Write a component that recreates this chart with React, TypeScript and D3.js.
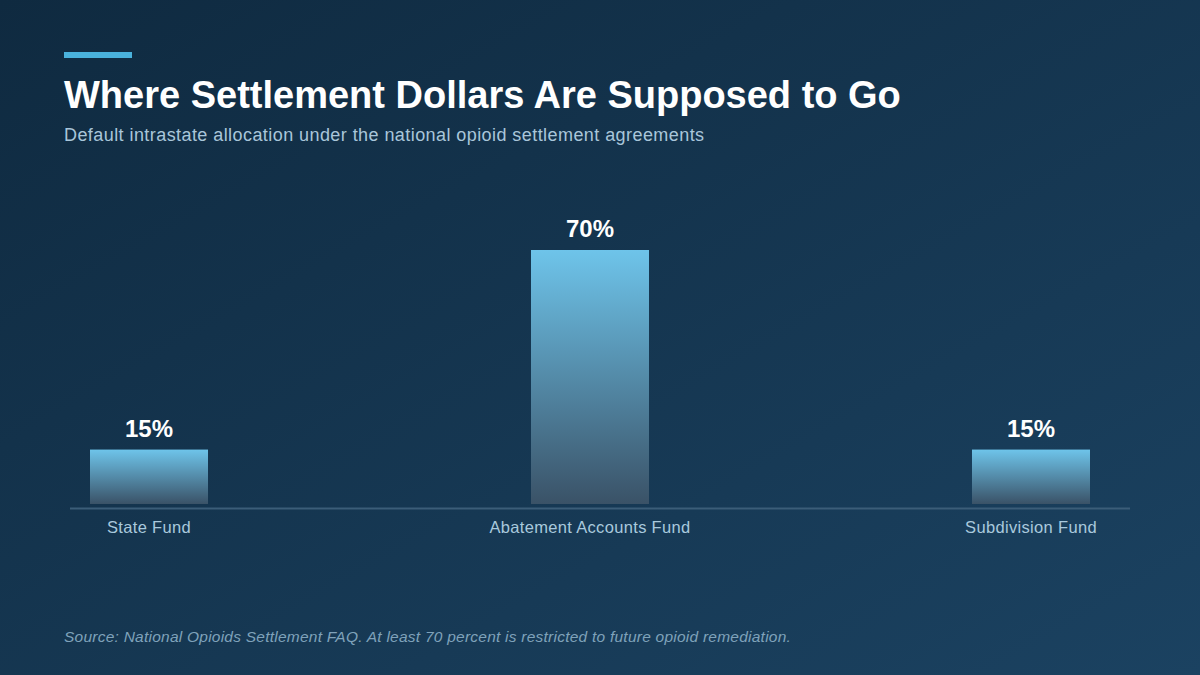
import React from "react";
import * as d3 from "d3";

const categories = ["State Fund", "Abatement Accounts Fund", "Subdivision Fund"];
const shares = [15, 70, 15];
const valueLabels = ["15%", "70%", "15%"];

const title = "Where Settlement Dollars Are Supposed to Go";
const subtitle = "Default intrastate allocation under the national opioid settlement agreements";
const source = "Source: National Opioids Settlement FAQ. At least 70 percent is restricted to future opioid remediation.";

const W = 1200;
const H = 675;
const FONT = "'Liberation Sans', Arial, Helvetica, sans-serif";

export default function App() {
  const x = d3
    .scaleBand<string>()
    .domain(categories)
    .range([90, 1090])
    .paddingInner(0.7324)
    .paddingOuter(0);
  const y = d3.scaleLinear().domain([0, 70]).range([504, 250]);

  return (
    <svg
      width={W}
      height={H}
      viewBox={`0 0 ${W} ${H}`}
      style={{ position: "absolute", left: 0, top: 0, display: "block" }}
    >
      <defs>
        <linearGradient id="bg" x1="0" y1="0" x2="1" y2="1">
          <stop offset="0%" stopColor="#0f2a40" />
          <stop offset="100%" stopColor="#1b4261" />
        </linearGradient>
        <linearGradient id="bar" x1="0" y1="0" x2="0" y2="1">
          <stop offset="0%" stopColor="#6ec4ea" />
          <stop offset="100%" stopColor="#3a5267" />
        </linearGradient>
      </defs>
      <rect x={0} y={0} width={W} height={H} fill="url(#bg)" />
      <rect x={64} y={52} width={68} height={6} fill="#4ab2dc" />
      <text x={64} y={107.5} fill="#ffffff" fontFamily={FONT} fontWeight={700} fontSize={38}>
        {title}
      </text>
      <text x={64} y={141} fill="#a9c6da" fontFamily={FONT} fontSize={18} letterSpacing={0.43}>
        {subtitle}
      </text>

      <line x1={70} x2={1130} y1={508.5} y2={508.5} stroke="#3b5d78" strokeWidth={2} />

      {categories.map((c, i) => {
        const bx = x(c)!;
        const by = y(shares[i]);
        return (
          <g key={c}>
            <rect x={bx} y={by} width={x.bandwidth()} height={y(0) - by} fill="url(#bar)" />
            <text
              x={bx + x.bandwidth() / 2}
              y={by - 13}
              textAnchor="middle"
              fill="#ffffff"
              fontFamily={FONT}
              fontWeight={700}
              fontSize={24}
            >
              {valueLabels[i]}
            </text>
            <text
              x={bx + x.bandwidth() / 2}
              y={533}
              textAnchor="middle"
              fill="#a9c9dd"
              fontFamily={FONT}
              fontSize={16.5}
              letterSpacing={0.33}
            >
              {c}
            </text>
          </g>
        );
      })}

      <text x={64} y={642} fill="#7fa2ba" fontFamily={FONT} fontStyle="italic" fontSize={15.5} letterSpacing={0.24}>
        {source}
      </text>
    </svg>
  );
}
